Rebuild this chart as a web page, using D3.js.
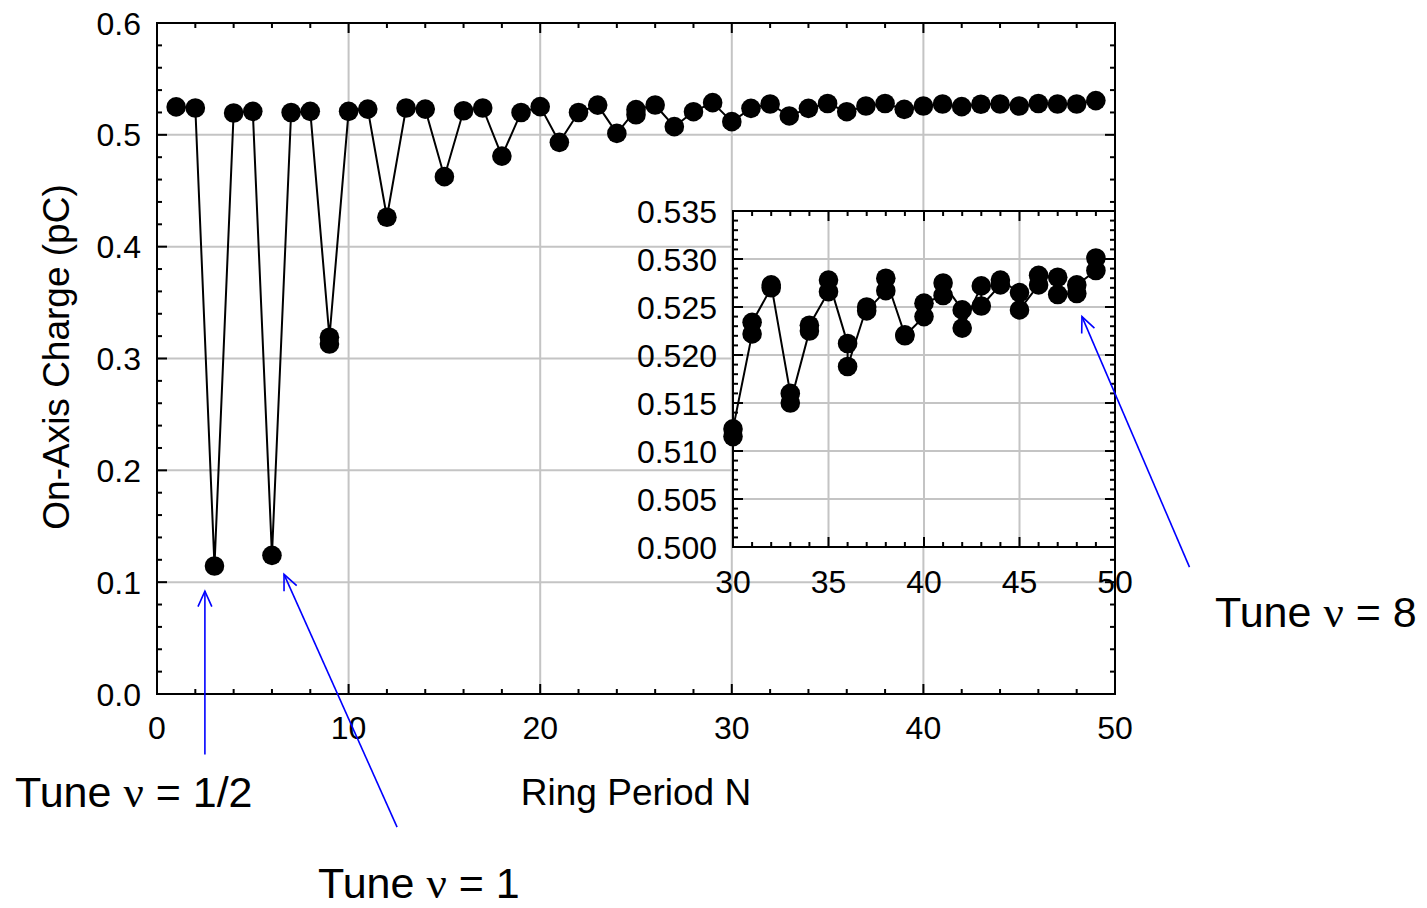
<!DOCTYPE html>
<html>
<head>
<meta charset="utf-8">
<script src="https://cdn.jsdelivr.net/npm/d3@7"></script>
<style>
body { margin: 0; background: #fff; }
svg { display: block; font-family: "Liberation Sans", Arial, sans-serif; }
</style>
</head>
<body>
<svg id="chart" width="1427" height="908"></svg>
<script>
// main curve, one value per ring period N = 1..49
const ringN = [1,2,3,4,5,6,7,8,9,10,11,12,13,14,15,16,17,18,19,20,21,22,23,24,25,
  26,27,28,29,30,31,32,33,34,35,36,37,38,39,40,41,42,43,44,45,46,47,48,49];
const charge = [0.525,0.524,0.1145,0.5195,0.521,0.124,0.520,0.521,0.319,0.521,
  0.523,0.4263,0.524,0.523,0.4626,0.5215,0.524,0.481,0.520,0.5252,
  0.4933,0.520,0.5266,0.5013,0.5225,0.5267,0.5073,0.5207,0.5288,0.5118,
  0.5237,0.5276,0.5169,0.5237,0.528,0.5207,0.5258,0.528,0.5228,0.5258,
  0.5276,0.5252,0.5273,0.5276,0.5258,0.528,0.5276,0.5276,0.5306];
// repeated shots drawn on the main plot
const extraN = [9, 25];
const extraQ = [0.313, 0.518];

// inset: two shots per N = 30..49
const insetN = [30,31,32,33,34,35,36,37,38,39,40,41,42,43,44,45,46,47,48,49];
const shotA = [0.5115,0.5222,0.5270,0.5160,0.5225,0.5266,0.5212,0.5250,0.5267,0.5221,
  0.5240,0.5262,0.5247,0.5272,0.5273,0.5265,0.5273,0.5281,0.5264,0.5288];
const shotB = [0.5123,0.5234,0.5273,0.5150,0.5231,0.5278,0.5188,0.5246,0.5280,0.5220,
  0.5254,0.5275,0.5228,0.5251,0.5278,0.5247,0.5283,0.5263,0.5273,0.5301];

const mainXTicks = [0,10,20,30,40,50];
const mainYTicks = [0,0.1,0.2,0.3,0.4,0.5,0.6];
const insetXTicks = [30,35,40,45,50];
const insetYTicks = [0.500,0.505,0.510,0.515,0.520,0.525,0.530,0.535];

// annotation arrows: [tailN, tailQ, headN, headQ], in axis units
const tuneLabels = ['1/2', '1', '8'];
const tuneArrows = [
  {ax: 'main', from: [2.5, -0.054], to: [2.5, 0.092]},
  {ax: 'main', from: [12.53, -0.119], to: [6.63, 0.107]},
  {ax: 'inset', from: [53.9, 0.4979], to: [48.27, 0.5240]}
];

const svg = d3.select('#chart');
const grid = '#c4c4c4';

const mx = d3.scaleLinear().domain([0, 50]).range([157, 1115]);
const my = d3.scaleLinear().domain([0, 0.6]).range([694, 23]);
const ix = d3.scaleLinear().domain([30, 50]).range([733, 1115]);
const iy = d3.scaleLinear().domain([0.500, 0.535]).range([547, 211]);

function frame(g, x, y, xMaj, yMaj) {
  let [x0, x1] = x.range(), [y0, y1] = y.range();
  // inner grid
  xMaj.slice(1, -1).forEach(v => {
    g.append('line').attr('x1', x(v)).attr('x2', x(v)).attr('y1', y0).attr('y2', y1)
      .attr('stroke', grid).attr('stroke-width', 2);
  });
  yMaj.slice(1, -1).forEach(v => {
    g.append('line').attr('x1', x0).attr('x2', x1).attr('y1', y(v)).attr('y2', y(v))
      .attr('stroke', grid).attr('stroke-width', 2);
  });
}

function ticks(g, x, y, xMaj, xMin, yMaj, yMin) {
  let [x0, x1] = x.range(), [y0, y1] = y.range();
  const tk = g.append('g').attr('stroke', '#000').attr('stroke-width', 2);
  xMin.forEach(v => {
    let len = xMaj.some(m => Math.abs(m - v) < 1e-9) ? 10 : 5;
    tk.append('line').attr('x1', x(v)).attr('x2', x(v)).attr('y1', y0).attr('y2', y0 - len);
    tk.append('line').attr('x1', x(v)).attr('x2', x(v)).attr('y1', y1).attr('y2', y1 + len);
  });
  yMin.forEach(v => {
    let len = yMaj.some(m => Math.abs(m - v) < 1e-9) ? 10 : 5;
    tk.append('line').attr('x1', x0).attr('x2', x0 + len).attr('y1', y(v)).attr('y2', y(v));
    tk.append('line').attr('x1', x1).attr('x2', x1 - len).attr('y1', y(v)).attr('y2', y(v));
  });
  g.append('rect').attr('x', x0).attr('y', y1).attr('width', x1 - x0).attr('height', y0 - y1)
    .attr('fill', 'none').attr('stroke', '#000').attr('stroke-width', 2);
}

function labels(g, x, y, xMaj, yMaj, yFmt, xBase) {
  g.selectAll(null).data(xMaj).join('text')
    .attr('x', d => x(d)).attr('y', y.range()[0] + xBase)
    .attr('text-anchor', 'middle').attr('font-size', 32).text(d => d);
  g.selectAll(null).data(yMaj).join('text')
    .attr('x', x.range()[0] - 16).attr('y', d => y(d)).attr('dy', '0.36em')
    .attr('text-anchor', 'end').attr('font-size', 32).text(d => d3.format(yFmt)(d));
}

// ---- main plot
const gm = svg.append('g');
frame(gm, mx, my, mainXTicks, mainYTicks);
gm.append('path')
  .attr('d', d3.line().x((d, i) => mx(ringN[i])).y(d => my(d))(charge))
  .attr('fill', 'none').attr('stroke', '#000').attr('stroke-width', 2);
gm.selectAll(null).data(extraN).join('line')
  .attr('x1', d => mx(d)).attr('x2', d => mx(d))
  .attr('y1', d => my(charge[ringN.indexOf(d)])).attr('y2', (d, i) => my(extraQ[i]))
  .attr('stroke', '#000').attr('stroke-width', 2);
gm.selectAll(null).data(charge).join('circle')
  .attr('cx', (d, i) => mx(ringN[i])).attr('cy', d => my(d)).attr('r', 9.8).attr('fill', '#000');
gm.selectAll(null).data(extraQ).join('circle')
  .attr('cx', (d, i) => mx(extraN[i])).attr('cy', d => my(d)).attr('r', 9.8).attr('fill', '#000');
ticks(gm, mx, my, mainXTicks, d3.range(0, 50.1, 2), mainYTicks, d3.range(0, 0.601, 0.02));
labels(gm, mx, my, mainXTicks, mainYTicks, '.1f', 45);

gm.append('text').attr('x', 636).attr('y', 805).attr('text-anchor', 'middle')
  .attr('font-size', 37).text('Ring Period N');
gm.append('text').attr('transform', 'translate(69,357) rotate(-90)').attr('text-anchor', 'middle')
  .attr('font-size', 37).text('On-Axis Charge (pC)');

// ---- inset
const gi = svg.append('g');
gi.append('rect').attr('x', 733).attr('y', 211).attr('width', 382).attr('height', 336).attr('fill', '#fff');
frame(gi, ix, iy, insetXTicks, insetYTicks);
const shots = [];
insetN.forEach((n, i) => { shots.push([n, shotA[i]]); shots.push([n, shotB[i]]); });
gi.append('path')
  .attr('d', d3.line().x(d => ix(d[0])).y(d => iy(d[1]))(shots))
  .attr('fill', 'none').attr('stroke', '#000').attr('stroke-width', 2);
gi.selectAll(null).data(shots).join('circle')
  .attr('cx', d => ix(d[0])).attr('cy', d => iy(d[1])).attr('r', 9.8).attr('fill', '#000');
ticks(gi, ix, iy, insetXTicks, d3.range(30, 50.1, 1), insetYTicks, d3.range(0.5, 0.5351, 0.001));
labels(gi, ix, iy, insetXTicks, insetYTicks, '.3f', 46);

// ---- tune annotations
const ga = svg.append('g').attr('stroke', '#0000ff').attr('stroke-width', 1.6).attr('fill', 'none');
tuneArrows.forEach(a => {
  let sx = a.ax === 'main' ? mx : ix, sy = a.ax === 'main' ? my : iy;
  let x0 = sx(a.from[0]), y0 = sy(a.from[1]), x1 = sx(a.to[0]), y1 = sy(a.to[1]);
  let ang = Math.atan2(y0 - y1, x0 - x1), L = 17, s = 0.42;
  ga.append('line').attr('x1', x0).attr('y1', y0).attr('x2', x1).attr('y2', y1);
  ga.append('path').attr('d',
    `M${x1 + L * Math.cos(ang - s)},${y1 + L * Math.sin(ang - s)}L${x1},${y1}` +
    `L${x1 + L * Math.cos(ang + s)},${y1 + L * Math.sin(ang + s)}`);
});
const tunePos = [[15, 807], [318, 898], [1215, 627]];
tuneLabels.forEach((t, i) => {
  let tx = svg.append('text').attr('x', tunePos[i][0]).attr('y', tunePos[i][1]).attr('font-size', 43);
  tx.append('tspan').text('Tune ');
  tx.append('tspan').attr('font-family', '"Liberation Serif", serif').attr('font-size', 45).text('ν');
  tx.append('tspan').text(' = ' + t);
});
</script>
</body>
</html>
